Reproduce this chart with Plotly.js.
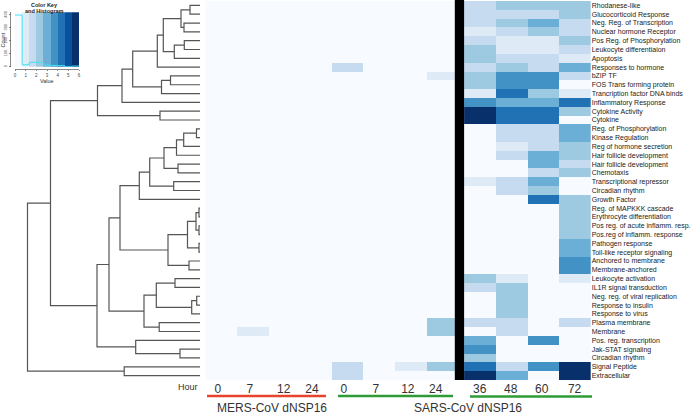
<!DOCTYPE html>
<html><head><meta charset="utf-8">
<script src="https://cdn.plot.ly/plotly-3.0.1.min.js"></script>
<style>html,body{margin:0;padding:0;background:#fff}#chart{width:696px;height:416px}</style>
</head><body><div id="chart"></div>
<script>
// ---- DATA ----
const rowLabels = ['Rhodanese-like','Glucocorticoid Response','Neg. Reg. of Transcription','Nuclear hormone Receptor','Pos Reg. of Phosphorylation','Leukocyte differentiaion','Apoptosis','Responses to hormone','bZIP TF','FOS Trans forming protein','Trancription factor DNA binds','Inflammatory Response','Cytokine Activity','Cytokine','Reg. of Phosphorylation','Kinase Regulation','Reg of hormone secretion','Hair follicle development','Hair follicle development','Chemotaxis','Transcriptional repressor','Circadian rhythm','Growth Factor','Reg. of MAPKKK cascade','Erythrocyte differentiation','Pos reg. of acute inflamm. resp.','Pos.reg of inflamm. response','Pathogen response','Toll-like receptor signaling','Anchored to membrane','Membrane-anchored','Leukocyte activation','IL1R signal transduction','Neg. reg. of viral replication','Response to insulin','Response to virus','Plasma membrane','Membrane','Pos. reg. transcription','Jak-STAT signaling','Circadian rhythm','Signal Peptide','Extracellular'];
const hourLabels = ['0','7','12','24','0','7','12','24','36','48','60','72'];
const groupLabels = ['MERS-CoV dNSP16','SARS-CoV dNSP16'];

const mers0  = [0,0,0,0,0,0,0,0,0,0, 0,0,0,0,0,0,0,0,0,0, 0,0,0,0,0,0,0,0,0,0, 0,0,0,0,0,0,0,0,0,0, 0,0,0];
const mers7  = [0,0,0,0,0,0,0,0,0,0, 0,0,0,0,0,0,0,0,0,0, 0,0,0,0,0,0,0,0,0,0, 0,0,0,0,0,0,0,1.0,0,0, 0,0,0];
const mers12 = [0,0,0,0,0,0,0,0,0,0, 0,0,0,0,0,0,0,0,0,0, 0,0,0,0,0,0,0,0,0,0, 0,0,0,0,0,0,0,0,0,0, 0,0,0];
const mers24 = [0,0,0,0,0,0,0,0,0,0, 0,0,0,0,0,0,0,0,0,0, 0,0,0,0,0,0,0,0,0,0, 0,0,0,0,0,0,0,0,0,0, 0,0,0];
const sars0  = [0,0,0,0,0,0,0,1.7,0,0, 0,0,0,0,0,0,0,0,0,0, 0,0,0,0,0,0,0,0,0,0, 0,0,0,0,0,0,0,0,0,0, 0,1.7,1.7];
const sars7  = [0,0,0,0,0,0,0,0,0,0, 0,0,0,0,0,0,0,0,0,0, 0,0,0,0,0,0,0,0,0,0, 0,0,0,0,0,0,0,0,0,0, 0,0,0];
const sars12 = [0,0,0,0,0,0,0,0,0,0, 0,0,0,0,0,0,0,0,0,0, 0,0,0,0,0,0,0,0,0,0, 0,0,0,0,0,0,0,0,0,0, 0,1.0,0];
const sars24 = [0,0,0,0,0,0,0,0,1.0,0, 0,0,0,0,0,0,0,0,0,0, 0,0,0,0,0,0,0,0,0,0, 0,0,0,0,0,0,2.3,2.3,0,0, 0,2.3,0];
const sars36 = [1.7,1.7,1.7,1.0,1.7,2.3,2.3,1.7,2.3,2.3, 1.0,3.7,5.7,5.7,0,0,0,0,0,0, 1.0,0,0,0,0,0,0,0,0,0, 0,2.3,1.7,0,0,0,1.7,0,3.0,3.7, 2.3,4.3,5.7];
const sars48 = [2.3,1.7,2.3,1.7,1.0,1.0,1.7,2.3,3.7,3.7, 4.3,3.0,4.3,4.3,1.7,1.7,1.0,1.7,0,0, 1.7,1.7,0,0,0,0,0,0,0,0, 0,1.0,2.3,2.3,2.3,2.3,1.7,1.7,0,0, 0,1.7,3.0];
const sars60 = [2.3,1.7,3.0,2.3,1.0,1.0,1.7,1.7,3.7,3.7, 2.3,3.0,4.3,4.3,1.7,1.7,1.7,3.0,3.0,1.7, 3.0,2.3,4.3,0,0,0,0,0,0,0, 0,0,0,0,0,0,0,0,3.7,0, 0,3.7,0];
const sars72 = [2.3,2.3,1.7,1.7,2.3,1.7,1.0,3.0,1.7,0, 1.0,4.3,2.3,0,3.0,3.0,2.3,2.3,1.7,2.3, 0,0,2.3,2.3,2.3,2.3,2.3,3.0,3.0,3.7, 3.7,1.0,0,0,0,0,1.7,0,0,0, 0,5.7,5.7];

const palette = ['#f7fbff','#deebf7','#c6dbef','#9ecae1','#6baed6','#4292c6','#2171b5','#08519c','#08306b'];
const valueMin = 0, valueMax = 6;
const countTicks = [0,100,200,300,400];
const valueTicks = [0,1,2,3,4,5,6];

// row dendrogram (hclust-style merges: negative = row, positive = earlier merge)
const mergeA = [-1,-3,1,-5,4,3,6,-9,8,7,10,-13,11,-15,14,15,-19,16,-21,18,20,-24,-26,22,-28,24,-30,26,21,-32,-34,31,30,-37,33,29,-40,-39,36,13,-42,40];
const mergeB = [-2,-4,2,-6,-7,5,-8,-10,-11,9,-12,-14,12,-16,-17,-18,-20,17,-22,19,-23,-25,-27,23,-29,25,-31,27,28,-33,-35,-36,32,-38,34,35,-41,37,38,39,-43,41];
const mergeH = [10,16,19,15.7,25.7,36.7,42.7,29.5,38.5,67.3,78,40,102.5,3.5,16.3,23.5,22,36,26.3,50.3,60.7,1,1,4,1,12.5,11,32,80,25,3.3,8.3,43.7,40.8,56,91,20,64.3,103,149.5,75.8,172.5];

// ---- BUILD ----
const W = 696, H = 416;
const px = x => x / W, py = y => 1 - y / H;
const rowIdx = rowLabels.map((_, i) => i);
const leftCols = [mers0, mers7, mers12, mers24, sars0, sars7, sars12, sars24];
const rightCols = [sars36, sars48, sars60, sars72];
const zLeft = rowLabels.map((_, r) => leftCols.map(c => c[r]));
const zRight = rowLabels.map((_, r) => rightCols.map(c => c[r]));
const shift = 0.178; // gap for the black separator
const xLeft = leftCols.map((_, i) => i);
const xRight = rightCols.map((_, i) => leftCols.length + i + shift);

const nb = palette.length;
const colorscale = [];
palette.forEach((c, k) => { colorscale.push([k / nb, c]); colorscale.push([(k + 1) / nb, c]); });
const breaks = palette.map((_, k) => valueMin + (valueMax - valueMin) * k / nb).concat([valueMax]);

// histogram of all values
const counts = palette.map(() => 0);
leftCols.concat(rightCols).forEach(col => col.forEach(v => {
  let k = Math.floor((v - valueMin) / ((valueMax - valueMin) / nb));
  k = Math.max(0, Math.min(nb - 1, k));
  counts[k]++;
}));
const maxCount = Math.max(...counts);
const yTop = maxCount / 0.95;

// dendrogram segments
const pos = [];
const nodePos = k => k < 0 ? {y: -k - 1, h: 0} : pos[k - 1];
const dx = [], dy = [];
mergeH.forEach((h, i) => {
  const a = nodePos(mergeA[i]), b = nodePos(mergeB[i]);
  dx.push(a.h, h, h, b.h, null); dy.push(a.y, a.y, b.y, b.y, null);
  pos.push({y: (a.y + b.y) / 2, h: h});
});

const hmCommon = {type: 'heatmap', colorscale: colorscale, zmin: valueMin, zmax: valueMax, showscale: false, hoverinfo: 'skip', xaxis: 'x', yaxis: 'y'};
const traces = [
  Object.assign({x: xLeft, y: rowIdx, z: zLeft}, hmCommon),
  Object.assign({x: xRight, y: rowIdx, z: zRight}, hmCommon),
  {type: 'scatter', mode: 'lines', x: dx, y: dy, xaxis: 'x2', yaxis: 'y', line: {color: '#555', width: 1.2}, hoverinfo: 'skip'},
  {type: 'bar', x: palette.map((_, k) => (breaks[k] + breaks[k + 1]) / 2), y: palette.map(() => yTop),
   width: palette.map((_, k) => breaks[k + 1] - breaks[k]), marker: {color: palette, line: {width: 0}},
   xaxis: 'x3', yaxis: 'y3', hoverinfo: 'skip'},
  {type: 'scatter', mode: 'lines', x: breaks, y: counts.concat([counts[nb - 1]]), line: {shape: 'hv', color: '#3fe3f0', width: 1},
   xaxis: 'x3', yaxis: 'y3', hoverinfo: 'skip'}
];

const tickPos = [-0.1, 0.91, 1.98, 2.87, 3.88, 4.89, 5.9, 6.78, 8.17, 9.15, 10.13, 11.17];
const axFont = {family: 'Liberation Sans, Arial, sans-serif', color: '#333'};
const layout = {
  width: W, height: H, margin: {l: 0, r: 0, t: 0, b: 0},
  paper_bgcolor: '#fff', plot_bgcolor: 'rgba(0,0,0,0)', showlegend: false, bargap: 0,
  font: {family: 'Liberation Sans, Arial, sans-serif', color: '#222'},
  xaxis: {domain: [px(205.3), px(590.7)], range: [-0.5, leftCols.length + rightCols.length - 0.5 + shift], anchor: 'y',
          tickmode: 'array', tickvals: tickPos, ticktext: hourLabels, ticks: '', showgrid: false, zeroline: false, showline: false,
          tickfont: Object.assign({size: 12}, axFont)},
  yaxis: {domain: [py(380), py(1)], range: [rowLabels.length - 0.5, -0.5], anchor: 'x', side: 'right',
          tickmode: 'array', tickvals: rowIdx, ticktext: rowLabels, ticks: '', showgrid: false, zeroline: false, showline: false,
          tickfont: {size: 7, color: '#222', family: 'Liberation Sans, Arial, sans-serif'}},
  xaxis2: {domain: [0, px(200)], range: [200, 0], anchor: 'y', visible: false},
  xaxis3: {domain: [px(15), px(79)], range: [valueMin, valueMax], anchor: 'free', position: py(69),
           tickmode: 'array', tickvals: valueTicks, ticks: 'outside', ticklen: 1.5, tickwidth: 0.7, tickcolor: '#555',
           showline: true, linecolor: '#555', linewidth: 0.7, showgrid: false, zeroline: false,
           tickfont: {size: 4.5, color: '#444'}},
  yaxis3: {domain: [py(66.7), py(12.3)], range: [0, yTop], anchor: 'free', position: px(10.5),
           tickmode: 'array', tickvals: countTicks, tickangle: -90, ticks: 'outside', ticklen: 1.5, tickwidth: 0.7, tickcolor: '#555',
           showline: true, linecolor: '#555', linewidth: 0.7, showgrid: false, zeroline: false,
           tickfont: {size: 4, color: '#444'}},
  shapes: [
    {type: 'rect', xref: 'x', yref: 'paper', x0: leftCols.length - 0.5 - 0.116, x1: leftCols.length - 0.5 + shift, y0: py(380), y1: 1,
     fillcolor: '#000', line: {width: 0}},
    {type: 'line', xref: 'paper', yref: 'paper', x0: px(207), x1: px(326), y0: py(396), y1: py(396), line: {color: '#e8432d', width: 2.6}},
    {type: 'line', xref: 'paper', yref: 'paper', x0: px(338), x1: px(453), y0: py(396), y1: py(396), line: {color: '#2e9b36', width: 2.6}},
    {type: 'line', xref: 'paper', yref: 'paper', x0: px(470), x1: px(592), y0: py(396.5), y1: py(396.5), line: {color: '#2e9b36', width: 2.6}}
  ],
  annotations: [
    {text: 'Hour', xref: 'paper', yref: 'paper', x: px(188), y: py(387), xanchor: 'center', yanchor: 'middle', showarrow: false, font: {size: 9, color: '#333'}},
    {text: groupLabels[0], xref: 'paper', yref: 'paper', x: px(272), y: 0, xanchor: 'center', yanchor: 'bottom', borderpad: 0, showarrow: false, font: {size: 12, color: '#333'}},
    {text: groupLabels[1], xref: 'paper', yref: 'paper', x: px(468), y: 0, xanchor: 'center', yanchor: 'bottom', borderpad: 0, showarrow: false, font: {size: 12, color: '#333'}},
    {text: '<b>Color Key</b>', xref: 'paper', yref: 'paper', x: px(44), y: py(5), xanchor: 'center', yanchor: 'middle', showarrow: false, font: {size: 5.5, color: '#222'}},
    {text: '<b>and Histogram</b>', xref: 'paper', yref: 'paper', x: px(44), y: py(11), xanchor: 'center', yanchor: 'middle', showarrow: false, font: {size: 5.5, color: '#222'}},
    {text: 'Count', xref: 'paper', yref: 'paper', x: px(2.5), y: py(40), xanchor: 'center', yanchor: 'middle', textangle: -90, borderpad: 0, showarrow: false, font: {size: 5.5, color: '#333'}},
    {text: 'Value', xref: 'paper', yref: 'paper', x: px(46.7), y: py(81), xanchor: 'center', yanchor: 'middle', borderpad: 0, showarrow: false, font: {size: 5.5, color: '#333'}}
  ]
};
Plotly.newPlot('chart', traces, layout, {staticPlot: true, displayModeBar: false});
</script>
</body></html>
